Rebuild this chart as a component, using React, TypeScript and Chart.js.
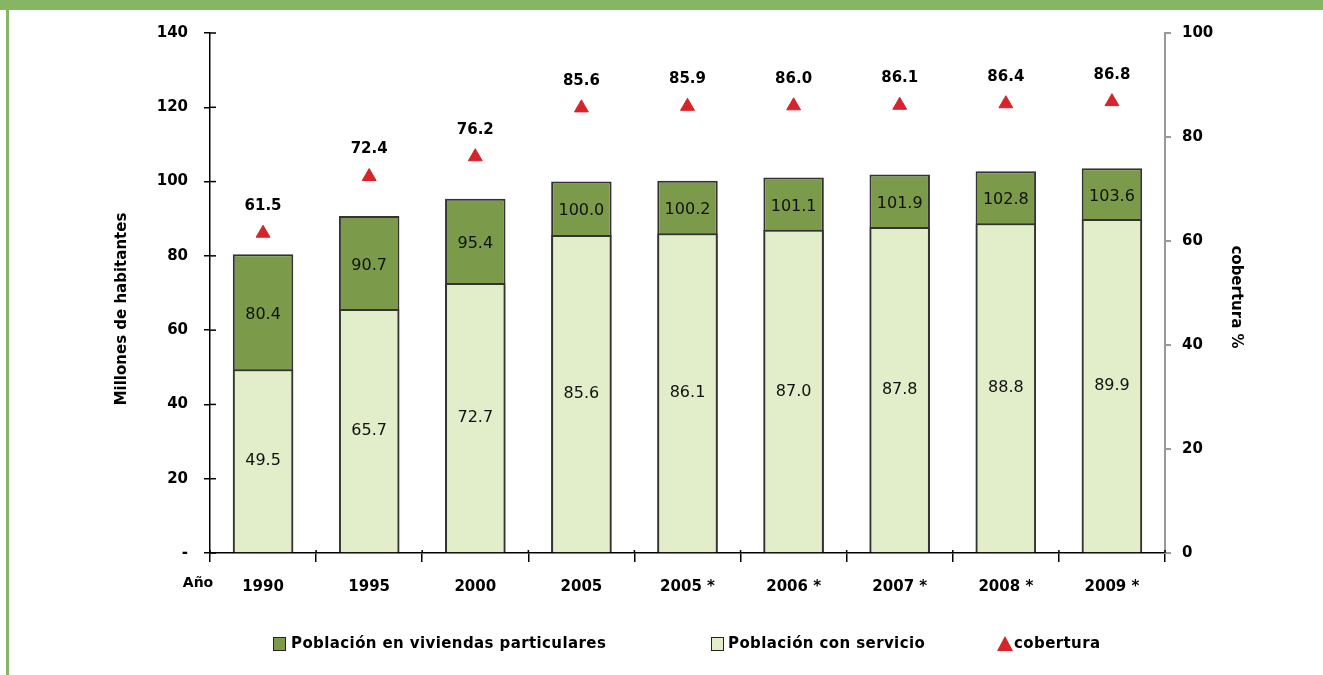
import React, { useEffect, useRef } from "react";
import { Chart, registerables } from "chart.js";

Chart.register(...registerables);

const categories = ["1990", "1995", "2000", "2005", "2005 *", "2006 *", "2007 *", "2008 *", "2009 *"];
const totalPop = [80.4, 90.7, 95.4, 100.0, 100.2, 101.1, 101.9, 102.8, 103.6];
const servedPop = [49.5, 65.7, 72.7, 85.6, 86.1, 87.0, 87.8, 88.8, 89.9];
const coverage = [61.5, 72.4, 76.2, 85.6, 85.9, 86.0, 86.1, 86.4, 86.8];

const leftTicks = [0, 20, 40, 60, 80, 100, 120, 140];
const rightTicks = [0, 20, 40, 60, 80, 100];

const DARK = "#7B9A4A";
const LIGHT = "#E2EDC9";
const RED = "#D9232B";
const FRAME = "#86B563";
const FONT = "'DejaVu Sans', sans-serif";

const decorPlugin = {
  id: "decor",
  afterDraw(chart: any) {
    const ctx = chart.ctx;
    const ys = chart.scales.y;
    const xs = chart.scales.x;
    const ca = chart.chartArea;
    ctx.save();
    // frame
    ctx.fillStyle = FRAME;
    ctx.fillRect(0, 0, 1323, 10);
    ctx.fillRect(6, 0, 3, 675);

    // inner ticks on left axis
    ctx.strokeStyle = "#000";
    ctx.lineWidth = 1.5;
    leftTicks.forEach((v) => {
      const y = ys.getPixelForValue(v);
      ctx.beginPath();
      ctx.moveTo(ca.left, y);
      ctx.lineTo(ca.left + 6, y);
      ctx.stroke();
    });
    // x ticks above axis slightly
    for (let i = 0; i <= categories.length; i++) {
      const x = ca.left + ((ca.right - ca.left) * i) / categories.length;
      ctx.beginPath();
      ctx.moveTo(x, ca.bottom - 3);
      ctx.lineTo(x, ca.bottom);
      ctx.stroke();
    }

    // Año
    ctx.fillStyle = "#000";
    ctx.font = `bold 14px ${FONT}`;
    ctx.textAlign = "center";
    ctx.textBaseline = "middle";
    ctx.fillText("Año", 198, 583);

    // axis titles
    ctx.font = `bold 15px ${FONT}`;
    ctx.save();
    ctx.translate(122, 309);
    ctx.rotate(-Math.PI / 2);
    ctx.fillText("Millones de habitantes", 0, 0);
    ctx.restore();
    ctx.save();
    ctx.translate(1236, 297);
    ctx.rotate(Math.PI / 2);
    ctx.fillText("cobertura %", 0, 0);
    ctx.restore();

    // legend
    ctx.font = `bold 15px ${FONT}`;
    try { (ctx as any).letterSpacing = "0.4px"; } catch (e) {}
    ctx.textAlign = "left";
    ctx.lineWidth = 1;
    ctx.strokeStyle = "#222";
    ctx.fillStyle = DARK;
    ctx.fillRect(273, 637, 12, 13);
    ctx.strokeRect(273.5, 637.5, 12, 13);
    ctx.fillStyle = "#000";
    ctx.fillText("Población en viviendas particulares", 291, 644);
    ctx.fillStyle = LIGHT;
    ctx.fillRect(711, 637, 12, 13);
    ctx.strokeRect(711.5, 637.5, 12, 13);
    ctx.fillStyle = "#000";
    ctx.fillText("Población con servicio", 728, 644);
    ctx.fillStyle = RED;
    ctx.beginPath();
    ctx.moveTo(1005, 636);
    ctx.lineTo(1013, 651);
    ctx.lineTo(997, 651);
    ctx.closePath();
    ctx.fill();
    ctx.fillStyle = "#000";
    ctx.fillText("cobertura", 1014, 644);
    try { (ctx as any).letterSpacing = "0px"; } catch (e) {}

    // value labels
    const n = categories.length;
    ctx.textAlign = "center";
    for (let i = 0; i < n; i++) {
      const x = xs.getPixelForValue(i);
      const yT = ys.getPixelForValue(totalPop[i]);
      const yS = ys.getPixelForValue(servedPop[i]);
      const y0 = ys.getPixelForValue(0);
      ctx.font = `16px ${FONT}`;
      ctx.fillStyle = "#111";
      ctx.fillText(servedPop[i].toFixed(1), x, (yS + y0) / 2);
      ctx.fillText(totalPop[i].toFixed(1), x, (yT + yS) / 2 + 3);
      const yc = chart.scales.y1.getPixelForValue(coverage[i]);
      ctx.font = `bold 15px ${FONT}`;
      ctx.fillStyle = "#000";
      ctx.fillText(coverage[i].toFixed(1), x, yc - 27);
    }
    ctx.restore();
  },
};

export default function App() {
  const ref = useRef<HTMLCanvasElement>(null);
  useEffect(() => {
    document.body.style.margin = "0";
    const chart = new Chart(ref.current!, {
      type: "bar",
      data: {
        labels: categories,
        datasets: [
          {
            type: "line",
            label: "cobertura",
            data: coverage,
            yAxisID: "y1",
            showLine: false,
            pointStyle: "triangle",
            pointRadius: 8,
            pointBackgroundColor: RED,
            pointBorderColor: RED,
            pointBorderWidth: 1,
            order: 0,
          } as any,
          {
            label: "Población con servicio",
            data: servedPop,
            backgroundColor: LIGHT,
            borderColor: "#333",
            borderWidth: 2,
            grouped: false,
            categoryPercentage: 1,
            barPercentage: 0.57,
            yAxisID: "y",
            order: 1,
          },
          {
            label: "Población en viviendas particulares",
            data: totalPop,
            backgroundColor: DARK,
            borderColor: "#333",
            borderWidth: 2,
            grouped: false,
            categoryPercentage: 1,
            barPercentage: 0.57,
            yAxisID: "y",
            order: 2,
          },
        ],
      },
      options: {
        responsive: false,
        animation: false,
        layout: { padding: { top: 33, left: 0, right: 0, bottom: 0 } },
        plugins: { legend: { display: false }, tooltip: { enabled: false } },
        scales: {
          x: {
            offset: true,
            grid: { offset: true, drawOnChartArea: false, tickLength: 9, color: "#000", lineWidth: 1.5 },
            border: { color: "#000", width: 1.5 },
            ticks: { color: "#000", font: { family: FONT, size: 15, weight: "bold" }, padding: 16, maxRotation: 0 },
            afterFit: (s: any) => { s.height = 122; },
          },
          y: {
            position: "left",
            min: 0,
            max: 140,
            afterBuildTicks: (s: any) => { s.ticks = leftTicks.map((v) => ({ value: v })); },
            ticks: {
              color: "#000",
              font: { family: FONT, size: 15, weight: "bold" },
              padding: 16,
              callback: (v: any) => (Number(v) === 0 ? "-" : String(v)),
            },
            grid: { drawOnChartArea: false, tickLength: 6, color: "#000", lineWidth: 1.5 },
            border: { color: "#000", width: 1.5 },
            afterFit: (s: any) => { s.width = 210; },
          },
          y1: {
            position: "right",
            min: 0,
            max: 100,
            afterBuildTicks: (s: any) => { s.ticks = rightTicks.map((v) => ({ value: v })); },
            ticks: { color: "#000", font: { family: FONT, size: 15, weight: "bold" }, padding: 11 },
            grid: { drawOnChartArea: false, tickLength: 6, color: "#999", lineWidth: 2 },
            border: { color: "#999", width: 2 },
            afterFit: (s: any) => { s.width = 158; },
          },
        },
      },
      plugins: [decorPlugin],
    });
    return () => chart.destroy();
  }, []);
  return (
    <div style={{ position: "absolute", left: 0, top: 0, width: 1323, height: 675, background: "#fff" }}>
      <canvas ref={ref} width={1323} height={675} style={{ display: "block" }} />
    </div>
  );
}
